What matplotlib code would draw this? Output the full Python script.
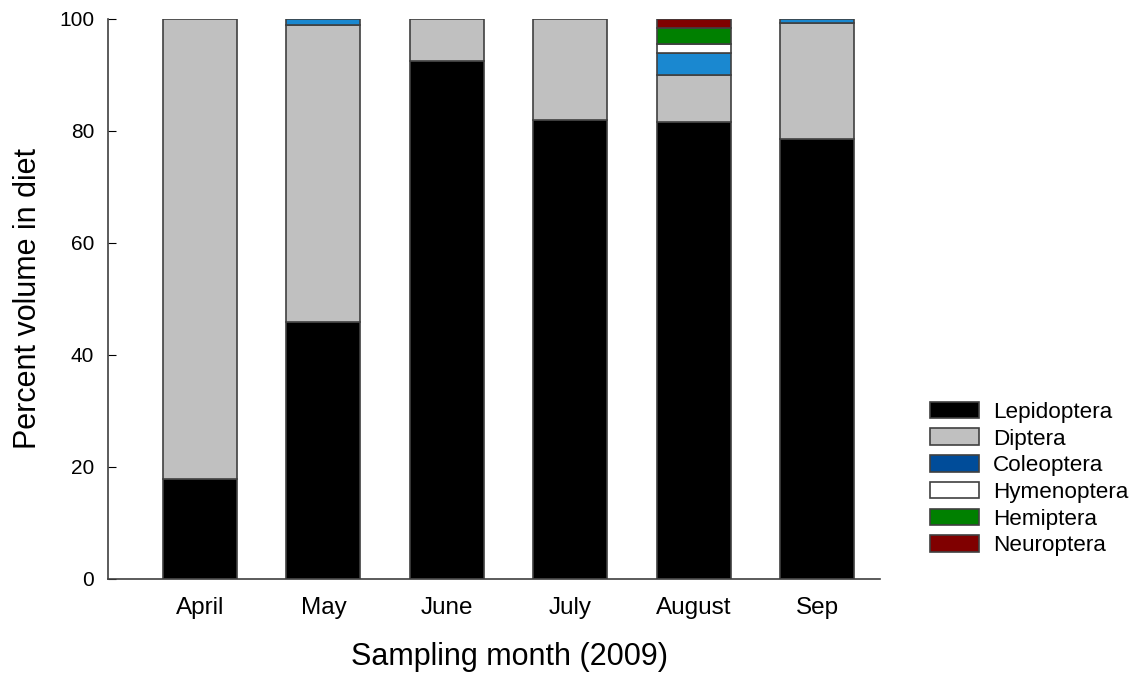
import numpy as np
import matplotlib.pyplot as plt
from matplotlib.patches import Patch

plt.rcParams['font.family'] = ['Liberation Sans', 'DejaVu Sans']

months = ["April", "May", "June", "July", "August", "Sep"]
taxa = ["Lepidoptera", "Diptera", "Coleoptera", "Hymenoptera", "Hemiptera", "Neuroptera"]

lepidoptera = [17.9, 45.9, 92.5, 82.0, 81.5, 78.5]
diptera = [82.1, 53.0, 7.5, 18.0, 8.4, 20.8]
coleoptera = [0.0, 1.1, 0.0, 0.0, 4.0, 0.7]
hymenoptera = [0.0, 0.0, 0.0, 0.0, 1.6, 0.0]
hemiptera = [0.0, 0.0, 0.0, 0.0, 2.8, 0.0]
neuroptera = [0.0, 0.0, 0.0, 0.0, 1.7, 0.0]

series = [lepidoptera, diptera, coleoptera, hymenoptera, hemiptera, neuroptera]
bar_colors = ["#000000", "#c0c0c0", "#1a88d0", "#ffffff", "#008000", "#800000"]
legend_colors = ["#000000", "#c0c0c0", "#004c99", "#ffffff", "#008000", "#800000"]

fig = plt.figure(figsize=(11.34, 6.74), dpi=100)
ax = fig.add_axes([0.0952, 0.141, 0.681, 0.831])

x = np.arange(len(months))
bottom = np.zeros(len(months))
for vals, col in zip(series, bar_colors):
    vals = np.array(vals)
    mask = vals > 0
    ax.bar(x[mask], vals[mask], width=0.6, bottom=bottom[mask], color=col,
           edgecolor="#404040", linewidth=1.2)
    bottom += vals

ax.set_xlim(-0.745, 5.51)
ax.set_ylim(0, 100)
ax.set_yticks(range(0, 101, 20))
ax.set_xticks(x)
ax.set_xticklabels(months)
ax.tick_params(axis='x', length=0, pad=13, labelsize=17.5)
ax.tick_params(axis='y', direction='in', length=6, labelsize=15, pad=10)
for s in ['left', 'bottom']:
    ax.spines[s].set_color("#404040")
    ax.spines[s].set_linewidth(1.2)
ax.spines['top'].set_visible(False)
ax.spines['right'].set_visible(False)
ax.set_xlabel("Sampling month (2009)", fontsize=22)
ax.set_ylabel("Percent volume in diet", fontsize=22)
ax.xaxis.set_label_coords(0.52, -0.112)
ax.yaxis.set_label_coords(-0.084, 0.5)

handles = [Patch(facecolor=c, edgecolor="#404040", linewidth=1.2) for c in legend_colors]
fig.legend(handles, taxa, loc='upper left', bbox_to_anchor=(0.82, 0.404),
           frameon=False, fontsize=16.2, handlelength=2.2, handleheight=0.75,
           labelspacing=0.25, handletextpad=0.6, borderpad=0, borderaxespad=0)

fig.savefig("out.png", dpi=100)
